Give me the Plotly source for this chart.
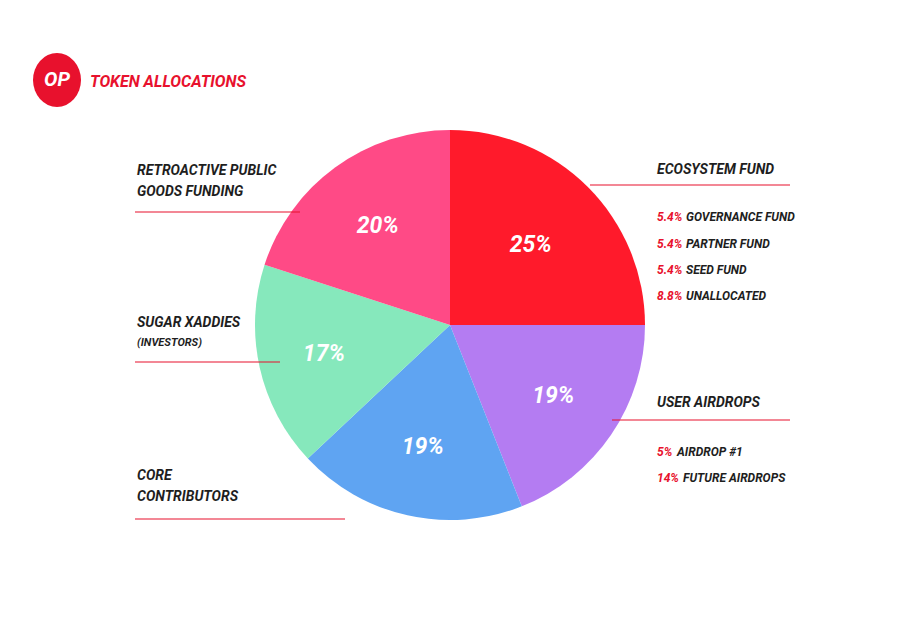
import plotly.graph_objects as go

categories = ["Ecosystem Fund", "User Airdrops", "Core Contributors", "Sugar Xaddies", "Retroactive Public Goods Funding"]
shares = [25, 19, 19, 17, 20]
slice_colors = ["#FF1A2B", "#B47CF2", "#5FA4F2", "#86E8BC", "#FF4A86"]

eco_items = ["GOVERNANCE FUND", "PARTNER FUND", "SEED FUND", "UNALLOCATED"]
eco_pcts = ["5.4%", "5.4%", "5.4%", "8.8%"]
air_items = ["AIRDROP #1", "FUTURE AIRDROPS"]
air_pcts = ["5%", "14%"]

W, H = 900, 630
OFF = 8  # page body margin shifts the figure
FONT = "Roboto"
RED = "#E8112D"
DARK = "#1E1E1E"


def px(x, y):
    return (x - OFF) / W, 1 - (y - OFF) / H


dx0, dy0 = px(255, 520)
dx1, dy1 = px(645, 130)

fig = go.Figure(go.Pie(
    labels=categories, values=shares, sort=False, direction="clockwise", rotation=0,
    marker=dict(colors=slice_colors, line=dict(color="white", width=0)),
    texttemplate="<b><i>%{value}%</i></b>", textposition="inside", insidetextorientation="horizontal",
    textfont=dict(family=FONT, size=23, color="white"),
    domain=dict(x=[dx0, dx1], y=[dy0, dy1]), showlegend=False, hoverinfo="label+percent",
))

ann = []
shapes = []


def text(x, y, s, color=DARK, size=13, anchor="left"):
    xp, yp = px(x, y)
    ann.append(dict(x=xp, y=yp, xref="paper", yref="paper", text=f"<b><i>{s}</i></b>", showarrow=False,
                    xanchor=anchor, yanchor="middle", align="left",
                    font=dict(family=FONT, size=size, color=color)))


def hline(x0, x1, y, color=RED):
    a, b = px(x0, y)
    c, _ = px(x1, y)
    shapes.append(dict(type="line", xref="paper", yref="paper", x0=a, x1=c, y0=b, y1=b,
                       line=dict(color=color, width=1.2)))


# header badge
cx, cy = px(57, 80)
shapes.append(dict(type="circle", xref="paper", yref="paper", x0=cx - 24 / W, x1=cx + 24 / W,
                   y0=cy - 27 / H, y1=cy + 27 / H, fillcolor=RED, line=dict(width=0)))
text(57, 79, "OP", color="white", size=20, anchor="center")
text(88, 81, "TOKEN ALLOCATIONS", color=RED, size=16)

# left labels
text(135, 170, "RETROACTIVE PUBLIC", size=14)
text(135, 191, "GOODS FUNDING", size=14)
hline(135, 300, 212)
text(135, 322, "SUGAR XADDIES", size=14)
text(135, 342, "(INVESTORS)", size=11)
hline(135, 280, 362)
text(135, 475, "CORE", size=14)
text(135, 496, "CONTRIBUTORS", size=14)
hline(135, 345, 519)

# right labels
text(655, 169, "ECOSYSTEM FUND", size=14)
hline(590, 790, 185)
for i, (p, it) in enumerate(zip(eco_pcts, eco_items)):
    y = 217 + i * 26.5
    text(655, y, p, color=RED, size=12)
    text(684, y, it, size=12)

text(655, 402, "USER AIRDROPS", size=14)
hline(612, 790, 420)
for i, (p, it) in enumerate(zip(air_pcts, air_items)):
    y = 452 + i * 26
    text(655, y, p, color=RED, size=12)
    text(674 if i == 0 else 681, y, it, size=12)

fig.update_layout(width=W, height=H, margin=dict(l=0, r=0, t=0, b=0),
                  paper_bgcolor="white", plot_bgcolor="white",
                  annotations=ann, shapes=shapes)
fig.write_html("out.html")
